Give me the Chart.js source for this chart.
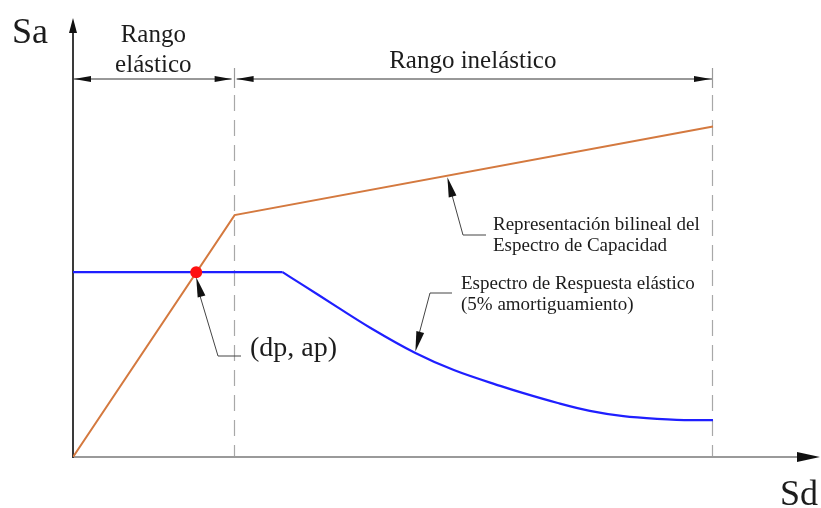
<!DOCTYPE html>
<html lang="es">
<head>
<meta charset="utf-8">
<title>Espectro de capacidad y punto de desempeño</title>
<script src="https://cdn.jsdelivr.net/npm/chart.js@4/dist/chart.umd.min.js"></script>
<style>
  html, body { margin: 0; padding: 0; background: #ffffff; }
  #wrap { position: relative; width: 821px; height: 508px; }
</style>
</head>
<body>
<div id="wrap"><canvas id="chart"></canvas></div>
<script>
// Bilinear capacity spectrum (Sd, Sa)
const capacitySd = [0, 10.1, 40];
const capacitySa = [0, 55.1, 75.3];

// Elastic response spectrum, 5% damping: constant plateau then descending branch
const plateauSd = [0, 13.1];
const plateauSa = [42.1, 42.1];
const branchSd = [13.1, 14.4, 16.5, 18.6, 21.4, 23.8, 26.7, 28.1, 30.3, 32.3, 34.4, 36.5, 38.6, 40];
const branchSa = [42.1, 39.1, 34.2, 29.4, 23.7, 19.8, 16.2, 14.6, 12.3, 10.5, 9.3, 8.7, 8.4, 8.4];

// Performance point (dp, ap)
const perfSd = [7.7];
const perfSa = [42.1];

// Range limits along Sd: yield and ultimate displacement
const rangeLimits = [10.1, 40];

// Where the leader arrows touch each curve (Sd value)
const capacityCalloutSd = 23.4;
const spectrumCalloutSd = 21.4;

const labels = {
  yAxis: 'Sa',
  xAxis: 'Sd',
  elastic: ['Rango', 'elástico'],
  inelastic: 'Rango inelástico',
  capacity: ['Representación bilineal del', 'Espectro de Capacidad'],
  spectrum: ['Espectro de Respuesta elástico', '(5% amortiguamiento)'],
  point: '(dp, ap)'
};

const toPoints = (xs, ys) => xs.map((x, i) => ({ x: x, y: ys[i] }));

function interp(xs, ys, x) {
  for (let i = 0; i < xs.length - 1; i++) {
    if (x >= xs[i] && x <= xs[i + 1]) {
      const t = (x - xs[i]) / (xs[i + 1] - xs[i]);
      return ys[i] + t * (ys[i + 1] - ys[i]);
    }
  }
  return ys[ys.length - 1];
}

const SERIF = '"Liberation Serif", "DejaVu Serif", serif';
const ORANGE = '#d4793f';
const BLUE = '#1f1fff';

function arrowHead(ctx, fromX, fromY, tipX, tipY, len, half, color) {
  const a = Math.atan2(tipY - fromY, tipX - fromX);
  const bx = tipX - len * Math.cos(a), by = tipY - len * Math.sin(a);
  const nx = -Math.sin(a) * half, ny = Math.cos(a) * half;
  ctx.save();
  ctx.fillStyle = color;
  ctx.beginPath();
  ctx.moveTo(tipX, tipY);
  ctx.lineTo(bx + nx, by + ny);
  ctx.lineTo(bx - nx, by - ny);
  ctx.closePath();
  ctx.fill();
  ctx.restore();
}

function line(ctx, pts, color, width, dash) {
  ctx.save();
  ctx.strokeStyle = color;
  ctx.lineWidth = width;
  ctx.setLineDash(dash || []);
  ctx.beginPath();
  ctx.moveTo(pts[0][0], pts[0][1]);
  for (let i = 1; i < pts.length; i++) ctx.lineTo(pts[i][0], pts[i][1]);
  ctx.stroke();
  ctx.restore();
}

function text(ctx, str, x, y, size, align) {
  ctx.save();
  ctx.fillStyle = '#1c1c1c';
  ctx.font = size + 'px ' + SERIF;
  ctx.textAlign = align || 'left';
  ctx.textBaseline = 'alphabetic';
  ctx.fillText(str, x, y);
  ctx.restore();
}

// Axes, range dimension lines and dashed range limits (under the curves)
const frame = {
  id: 'frame',
  beforeDatasetsDraw(chart) {
    const ctx = chart.ctx;
    const xs = chart.scales.x, ys = chart.scales.y;
    const x0 = xs.getPixelForValue(0), y0 = ys.getPixelForValue(0);
    const dimY = 79;

    // dashed verticals at the range limits, with a short solid tick on top
    rangeLimits.forEach(v => {
      const px = Math.round(xs.getPixelForValue(v)) - 0.5;
      line(ctx, [[px, 68], [px, 88]], '#9a9a9a', 1.2);
      line(ctx, [[px, 95], [px, y0]], '#a8a8a8', 1.2, [16, 9]);
    });

    // horizontal Sd axis
    line(ctx, [[x0, y0], [812, y0]], '#9a9a9a', 2);
    arrowHead(ctx, x0, y0, 820, y0, 23, 5, '#111');
    // vertical Sa axis
    line(ctx, [[x0, y0 + 1], [x0, 26]], '#3a3a3a', 2);
    arrowHead(ctx, x0, y0, x0, 18, 15, 4, '#111');

    // dimension lines for the elastic and inelastic ranges
    const xa = xs.getPixelForValue(rangeLimits[0]) - 1;
    const xb = xs.getPixelForValue(rangeLimits[1]) - 1;
    line(ctx, [[x0, dimY], [xa - 2, dimY]], '#333', 1);
    arrowHead(ctx, xa, dimY, x0 + 1, dimY, 17, 3, '#111');
    arrowHead(ctx, x0, dimY, xa - 2, dimY, 17, 3, '#111');
    line(ctx, [[xa + 3, dimY], [xb, dimY]], '#333', 1);
    arrowHead(ctx, xb, dimY, xa + 3, dimY, 17, 3, '#111');
    arrowHead(ctx, xa, dimY, xb - 1, dimY, 17, 3, '#111');

    text(ctx, labels.elastic[0], (x0 + xa) / 2, 42, 25, 'center');
    text(ctx, labels.elastic[1], (x0 + xa) / 2, 72, 25, 'center');
    text(ctx, labels.inelastic, (xa + xb) / 2, 68, 25, 'center');

    text(ctx, labels.yAxis, 12, 43, 36, 'left');
    text(ctx, labels.xAxis, 780, 505, 36, 'left');
  }
};

// Callout leaders and their texts (over the curves)
const callouts = {
  id: 'callouts',
  afterDatasetsDraw(chart) {
    const ctx = chart.ctx;
    const xs = chart.scales.x, ys = chart.scales.y;
    const lc = '#444';

    // capacity spectrum callout
    const cx = xs.getPixelForValue(capacityCalloutSd);
    const cy = ys.getPixelForValue(interp(capacitySd, capacitySa, capacityCalloutSd)) + 1.5;
    line(ctx, [[cx + 3.5, cy + 14], [463, 235], [486, 235]], lc, 1);
    arrowHead(ctx, 463, 235, cx, cy, 20, 4, '#111');
    text(ctx, labels.capacity[0], 493, 230, 19);
    text(ctx, labels.capacity[1], 493, 251, 19);

    // elastic response spectrum callout
    const sx = xs.getPixelForValue(spectrumCalloutSd);
    const sy = ys.getPixelForValue(interp(branchSd, branchSa, spectrumCalloutSd)) - 1.5;
    line(ctx, [[452, 293], [430, 293], [sx + 3, sy - 15]], lc, 1);
    arrowHead(ctx, 430, 293, sx, sy, 20, 4, '#111');
    text(ctx, labels.spectrum[0], 461, 289, 19);
    text(ctx, labels.spectrum[1], 461, 310, 19);

    // performance point callout
    const px = xs.getPixelForValue(perfSd[0]);
    const py = ys.getPixelForValue(perfSa[0]) + 5;
    line(ctx, [[241, 356], [218, 356], [px + 3, py + 16]], lc, 1);
    arrowHead(ctx, 218, 356, px, py, 20, 4, '#111');
    text(ctx, labels.point, 250, 356, 28);
  }
};

new Chart(document.getElementById('chart'), {
  type: 'scatter',
  data: {
    datasets: [
      {
        label: '(dp, ap)',
        data: toPoints(perfSd, perfSa),
        showLine: false,
        pointRadius: 6,
        pointBackgroundColor: '#ff1010',
        pointBorderColor: '#ff1010',
        pointBorderWidth: 0,
        order: 0
      },
      {
        label: 'Espectro de Capacidad',
        data: toPoints(capacitySd, capacitySa),
        showLine: true,
        borderColor: ORANGE,
        borderWidth: 2,
        pointRadius: 0,
        tension: 0,
        order: 2
      },
      {
        label: 'Espectro de Respuesta elástico (meseta)',
        data: toPoints(plateauSd, plateauSa),
        showLine: true,
        borderColor: BLUE,
        borderWidth: 2.2,
        pointRadius: 0,
        tension: 0,
        order: 1
      },
      {
        label: 'Espectro de Respuesta elástico (rama descendente)',
        data: toPoints(branchSd, branchSa),
        showLine: true,
        borderColor: BLUE,
        borderWidth: 2.2,
        pointRadius: 0,
        cubicInterpolationMode: 'monotone',
        order: 1
      }
    ]
  },
  options: {
    responsive: true,
    maintainAspectRatio: false,
    animation: false,
    layout: { padding: { left: 73, right: 8, top: 18, bottom: 51 } },
    plugins: { legend: { display: false }, tooltip: { enabled: false } },
    scales: {
      x: { type: 'linear', min: 0, max: 46.25, display: false },
      y: { type: 'linear', min: 0, max: 100, display: false }
    }
  },
  plugins: [frame, callouts]
});
</script>
</body>
</html>
